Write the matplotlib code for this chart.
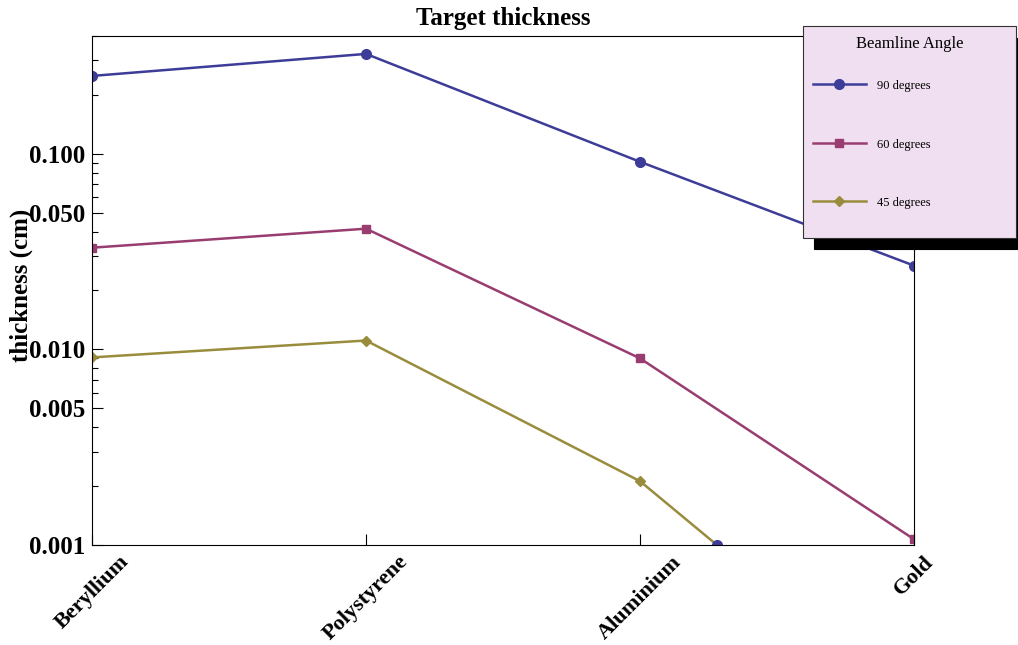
import numpy as np
import matplotlib
matplotlib.use("Agg")
import matplotlib.pyplot as plt
from matplotlib.ticker import FixedLocator, FixedFormatter, LogLocator, NullFormatter
from matplotlib.legend_handler import HandlerLine2D

# data
materials = ["Beryllium", "Polystyrene", "Aluminium", "Gold"]
deg90 = [0.25, 0.324, 0.091, 0.0268]
deg60 = [0.0331, 0.0414, 0.0090, 0.00107]
deg45 = [0.0091, 0.0111, 0.00212, 0.000146]
series_labels = ["90 degrees", "60 degrees", "45 degrees"]
ytick_vals = [0.001, 0.005, 0.010, 0.050, 0.100]
ytick_text = ["0.001", "0.005", "0.010", "0.050", "0.100"]

# old mathematica default colours
c90 = (0.24, 0.24, 0.6)
c60 = (0.6, 0.24, 0.442)
c45 = (0.6, 0.5544, 0.24)

plt.rcParams['font.family'] = ['Liberation Serif', 'DejaVu Serif']


class LowerLine(HandlerLine2D):
    # tall legend rows put the line above the text, push it back down
    def __init__(self, dy, **kw):
        super().__init__(**kw)
        self.dy = dy

    def create_artists(self, legend, orig_handle, xdescent, ydescent,
                       width, height, fontsize, trans):
        arts = super().create_artists(legend, orig_handle, xdescent, ydescent,
                                      width, height, fontsize, trans)
        for a in arts:
            a.set_ydata(np.asarray(a.get_ydata()) - self.dy)
        return arts


fig = plt.figure(figsize=(10.18, 6.45), dpi=100)
ax = fig.add_axes([92/1018, 1-545/645, (914-92)/1018, (545-36)/645])

x = np.arange(len(materials))
ymin, ymax = 0.001, 0.4

l90, = ax.plot(x, deg90, '-o', color=c90, lw=1.8, ms=7, label=series_labels[0])
l60, = ax.plot(x, deg60, '-s', color=c60, lw=1.8, ms=6, label=series_labels[1])
l45, = ax.plot(x, deg45, '-D', color=c45, lw=1.8, ms=5, label=series_labels[2])

# the clipped point where the 45 degree line leaves the frame
ly = np.log10(deg45)
t = (np.log10(ymin) - ly[2]) / (ly[3] - ly[2])
ax.plot(x[2] + t, ymin, 'o', color=c90, ms=7)

ax.set_yscale('log')
ax.set_xlim(0, len(materials) - 1)
ax.set_ylim(ymin, ymax)

ax.yaxis.set_major_locator(FixedLocator(ytick_vals))
ax.yaxis.set_major_formatter(FixedFormatter(ytick_text))
ax.yaxis.set_minor_locator(LogLocator(base=10, subs=np.arange(2, 10)))
ax.yaxis.set_minor_formatter(NullFormatter())
ax.set_xticks(x)
ax.set_xticklabels(materials)

ax.tick_params(axis='y', which='major', direction='in', length=8, width=0.8, pad=5)
ax.tick_params(axis='y', which='minor', direction='in', length=4.5, width=0.8)
ax.tick_params(axis='x', which='major', direction='in', length=8, width=0.8, pad=5)
for lab in ax.get_xticklabels():
    lab.set_fontsize(16)
    lab.set_fontweight('bold')
    lab.set_rotation(45)
    lab.set_ha('center')
for lab in ax.get_yticklabels():
    lab.set_fontsize(18)
    lab.set_fontweight('bold')
for s in ax.spines.values():
    s.set_linewidth(0.8)

ax.set_title("Target thickness", fontsize=18, fontweight='bold', pad=8)
ax.set_ylabel("thickness (cm)", fontsize=18, fontweight='bold')
ax.yaxis.set_label_coords(-0.072, 0.51)

hmap = {h: LowerLine(6.3) for h in (l90, l60, l45)}
leg = fig.legend(handles=[l90, l60, l45], title="Beamline Angle",
                 handler_map=hmap,
                 loc='upper left', mode='expand',
                 bbox_to_anchor=(803/1018, 1-239/645, 213/1018, 213/645),
                 borderaxespad=0, fontsize=9, title_fontsize=12,
                 handlelength=4.2, handletextpad=0.9, handleheight=5.6,
                 labelspacing=0.8, borderpad=0.8, fancybox=False,
                 framealpha=1, facecolor=(0.94, 0.875, 0.94), edgecolor='0.2',
                 shadow={'color': 'black', 'alpha': 1, 'ox': 8, 'oy': -8.5})
leg.get_frame().set_linewidth(0.8)

fig.savefig("out.png", dpi=100)
